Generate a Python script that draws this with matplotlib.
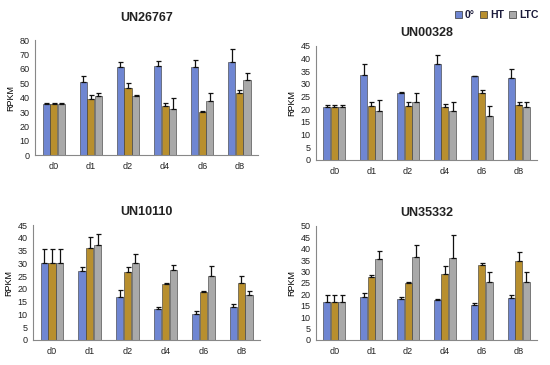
import matplotlib
matplotlib.use("Agg")
import matplotlib.pyplot as plt
import numpy as np

plt.rcParams['font.family'] = ['Liberation Sans', 'DejaVu Sans']

days = ["d0", "d1", "d2", "d4", "d6", "d8"]
groups = ["0°", "HT", "LTC"]

# UN26767
un26767_0 = [35.5, 51, 61, 62, 61.5, 65]
un26767_0_err = [1, 4, 3.5, 3.5, 4.5, 9]
un26767_ht = [35.5, 39, 47, 34, 30, 43]
un26767_ht_err = [1, 2.5, 3.5, 2, 0.5, 2]
un26767_ltc = [35.5, 41, 41, 32, 37.5, 52]
un26767_ltc_err = [1, 2, 1, 7.5, 5.5, 5]

# UN00328
un00328_0 = [21, 33.5, 26.5, 38, 33, 32.5]
un00328_0_err = [0.7, 4.5, 0.2, 3.5, 0.2, 3.5]
un00328_ht = [21, 21.3, 21.2, 21, 26.3, 21.8]
un00328_ht_err = [0.7, 1.5, 1.5, 1, 1.3, 1]
un00328_ltc = [21, 19.5, 23, 19.5, 17.2, 21]
un00328_ltc_err = [0.7, 4, 3.5, 3.5, 4, 1.7]

# UN10110
un10110_0 = [30, 27, 17, 12.3, 10.3, 13]
un10110_0_err = [5.5, 1.5, 2.5, 0.5, 1, 1]
un10110_ht = [30, 36, 26.5, 22, 18.7, 22.5]
un10110_ht_err = [5.5, 4.5, 2, 0.5, 0.5, 2.5]
un10110_ltc = [30, 37, 30.2, 27.5, 25, 17.5]
un10110_ltc_err = [5.5, 4.5, 3.5, 2, 4, 1.5]

# UN35332
un35332_0 = [16.5, 19, 18, 17.5, 15.3, 18.3]
un35332_0_err = [3.3, 1.5, 1, 0.5, 1, 1.5]
un35332_ht = [16.5, 27.5, 24.8, 29, 32.7, 34.5]
un35332_ht_err = [3.3, 1, 0.5, 3.3, 1, 4]
un35332_ltc = [16.5, 35.5, 36.5, 36, 25.5, 25.5]
un35332_ltc_err = [3.3, 3.7, 5, 10, 4.3, 4.5]

colors = ["#6f86d2", "#b88f2e", "#a9a9a9"]


def panel(fig, rect, title, series, errs, ymax, step, tpad):
    ax = fig.add_axes(rect)
    x = np.arange(len(days))
    w = 0.19
    for i, (vals, err) in enumerate(zip(series, errs)):
        ax.bar(x + (i - 1) * 0.205, vals, w, color=colors[i],
               edgecolor="#333333", linewidth=0.4, label=groups[i],
               yerr=[np.zeros(len(err)), err],
               error_kw=dict(ecolor="#111111", elinewidth=0.9, capsize=1.8,
                             capthick=0.9))
    ax.set_xlim(-0.5, len(days) - 0.5)
    ax.set_ylim(0, ymax)
    ax.set_yticks(np.arange(0, ymax + 1, step))
    ax.set_xticks(x)
    ax.set_xticklabels(days)
    ax.tick_params(axis="both", length=0, labelsize=6.5, colors="#222222")
    ax.tick_params(axis="x", pad=5)
    ax.tick_params(axis="y", pad=4)
    for s in ["top", "right"]:
        ax.spines[s].set_visible(False)
    ax.spines["left"].set_color("#888888")
    ax.spines["bottom"].set_color("#888888")
    ax.set_ylabel("RPKM", fontsize=6.5, labelpad=3)
    ax.set_title(title, fontsize=9, fontweight="bold", color="#222222", pad=tpad)
    return ax


fig = plt.figure(figsize=(5.5, 3.65), dpi=100)

panel(fig, [0.064, 0.575, 0.405, 0.315], "UN26767",
      [un26767_0, un26767_ht, un26767_ltc],
      [un26767_0_err, un26767_ht_err, un26767_ltc_err], 80, 10, 14)
panel(fig, [0.5745, 0.562, 0.402, 0.312], "UN00328",
      [un00328_0, un00328_ht, un00328_ltc],
      [un00328_0_err, un00328_ht_err, un00328_ltc_err], 45, 5, 7)
panel(fig, [0.06, 0.0685, 0.413, 0.315], "UN10110",
      [un10110_0, un10110_ht, un10110_ltc],
      [un10110_0_err, un10110_ht_err, un10110_ltc_err], 45, 5, 7)
panel(fig, [0.5745, 0.0685, 0.402, 0.3125], "UN35332",
      [un35332_0, un35332_ht, un35332_ltc],
      [un35332_0_err, un35332_ht_err, un35332_ltc_err], 50, 5, 7)

handles = [plt.Rectangle((0, 0), 1, 1, facecolor=c, edgecolor="#333333",
                         linewidth=0.5) for c in colors]
leg = fig.legend(handles, groups, loc="center right",
                 bbox_to_anchor=(0.99, 0.958), ncol=3, frameon=False,
                 handlelength=0.7, handleheight=0.7, handletextpad=0.25,
                 columnspacing=0.5, borderpad=0.1,
                 prop=dict(size=7.5, weight="bold"))
for t in leg.get_texts():
    t.set_color("#1a1a3a")

fig.savefig("out.png", dpi=100)
